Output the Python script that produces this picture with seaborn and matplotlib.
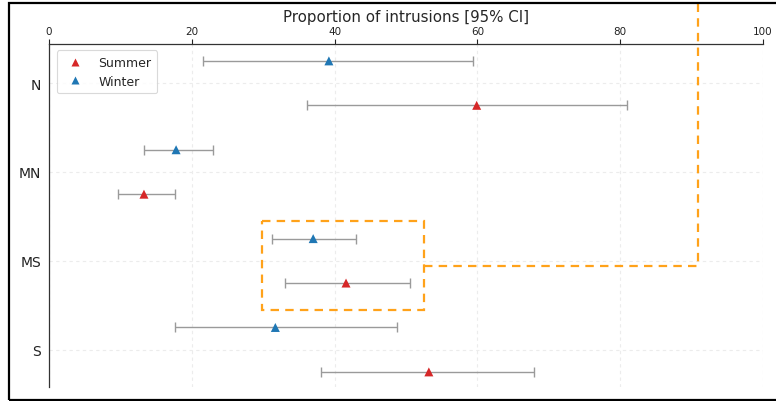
import matplotlib
matplotlib.use("Agg")
import matplotlib.pyplot as plt
import seaborn as sns
import pandas as pd
import numpy as np
from matplotlib.patches import Rectangle
from matplotlib.lines import Line2D

regions = ["N", "MN", "MS", "S"]
seasons = ["Summer", "Winter"]
summer_prop = [59.9, 13.3, 41.6, 53.2]
summer_lo = [36.1, 9.7, 33.1, 38.1]
summer_hi = [80.9, 17.6, 50.6, 67.9]
winter_prop = [39.2, 17.8, 37.0, 31.7]
winter_lo = [21.6, 13.3, 31.2, 17.6]
winter_hi = [59.4, 23.0, 43.0, 48.7]
xticks = [0, 20, 40, 60, 80, 100]

sns.set_style("white")
plt.rcParams['font.family'] = ['DejaVu Sans']

offsets = {"Summer": 0.25, "Winter": -0.25}
rows = []
for i, r in enumerate(regions):
    rows.append(dict(region=r, season="Summer", prop=summer_prop[i], lo=summer_lo[i], hi=summer_hi[i], y=i + offsets["Summer"]))
for i, r in enumerate(regions):
    rows.append(dict(region=r, season="Winter", prop=winter_prop[i], lo=winter_lo[i], hi=winter_hi[i], y=i + offsets["Winter"]))
df = pd.DataFrame(rows)

fig = plt.figure(figsize=(7.76, 4.02), dpi=100)
ax = fig.add_axes([49/776, 1 - 388/402, (763-49)/776, (388-45)/402])

ax.errorbar(df["prop"], df["y"],
            xerr=[df["prop"] - df["lo"], df["hi"] - df["prop"]],
            fmt="none", ecolor="#9a9a9a", elinewidth=1.0, capsize=3.6, capthick=1.0, zorder=2)
sns.scatterplot(data=df, x="prop", y="y", hue="season", hue_order=seasons,
                palette={"Summer": "#d62728", "Winter": "#1f77b4"},
                marker="^", s=42, edgecolor="none", ax=ax, zorder=3)

ax.set_xlim(0, 100)
ax.set_ylim(3.42, -0.44)
ax.set_xticks(xticks)
ax.set_yticks(range(len(regions)))
ax.set_yticklabels(regions, fontsize=10)
ax.xaxis.tick_top()
ax.xaxis.set_label_position("top")
ax.tick_params(axis="x", labelsize=7.5, length=3.5, width=0.8, colors="#222222", pad=2.5)
ax.tick_params(axis="y", length=3.5, width=0.8, colors="#222222", pad=2)
ax.set_xlabel("Proportion of intrusions [95% CI]", fontsize=10.8, labelpad=3.5)
ax.set_ylabel("")
ax.grid(True, linestyle=(0, (3, 3)), color="#ececec", linewidth=0.8)
ax.set_axisbelow(True)
for s in ["right", "bottom"]:
    ax.spines[s].set_visible(False)
for s in ["left", "top"]:
    ax.spines[s].set_visible(True)
    ax.spines[s].set_color("#333333")
    ax.spines[s].set_linewidth(0.9)

leg = ax.legend(loc="upper left", fontsize=9, frameon=True, borderpad=0.45,
                handletextpad=0.9, markerscale=0.85, labelspacing=0.45,
                bbox_to_anchor=(0.002, 1.0))
leg.get_frame().set_edgecolor("#d0d0d0")
leg.get_frame().set_linewidth(0.8)

orange = "#ffa21a"
dash = (0, (3.8, 2.8))
ax.add_patch(Rectangle((29.8, 1.55), 22.7, 1.0, fill=False, edgecolor=orange,
                       linewidth=1.6, linestyle=dash, zorder=4))
ax.add_line(Line2D([52.5, 90.9, 90.9], [2.06, 2.06, -1.3], color=orange,
                   linewidth=1.6, linestyle=dash, clip_on=False, zorder=4))

fig.patches.append(Rectangle((8.5/776, 1 - 400.5/402), 2.0, (400.5-4)/402, transform=fig.transFigure,
                             fill=False, edgecolor="black", linewidth=1.6, clip_on=False))

fig.savefig("out.png", dpi=100)
